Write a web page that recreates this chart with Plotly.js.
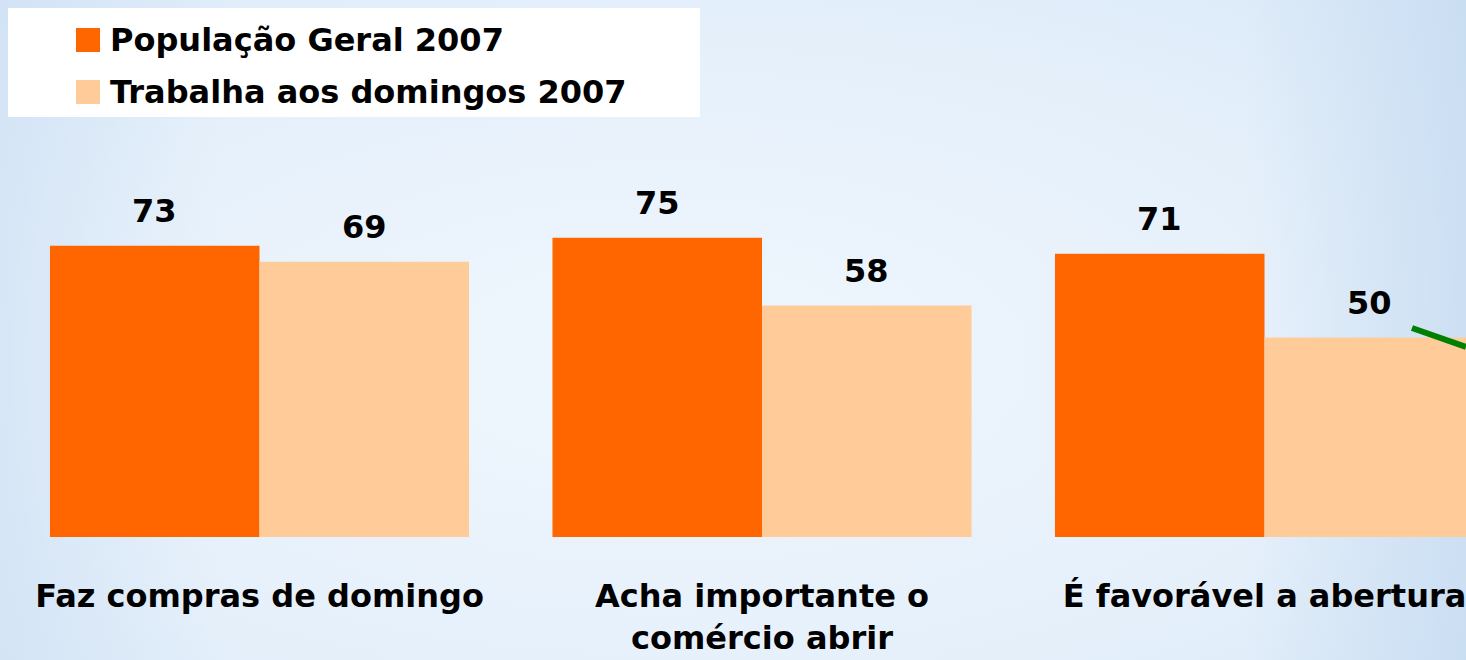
<!DOCTYPE html>
<html>
<head>
<meta charset="utf-8">
<script src="https://cdn.plot.ly/plotly-3.0.1.min.js"></script>
<style>
  html, body { margin: 0; padding: 0; }
  body {
    width: 1466px; height: 660px; overflow: hidden;
    background:
      linear-gradient(90deg, rgba(200,220,242,0.5) 0%, rgba(255,255,255,0) 15%, rgba(255,255,255,0) 85%, rgba(195,217,240,0.7) 100%),
      radial-gradient(ellipse at 45% 55%, #eff6fd 0%, #e7f1fb 55%, #dae9f8 100%);
  }
  #chart { width: 1466px; height: 660px; }
</style>
</head>
<body>
<div id="chart"></div>
<script>
// ---- data ----
const categories = ["Faz compras de domingo", "Acha importante o<br>comércio abrir", "É favorável a abertura"];
const seriesNames = ["População Geral 2007", "Trabalha aos domingos 2007"];
const populacaoGeral = [73, 75, 71];
const trabalhaDomingos = [69, 58, 50];
const seriesColors = ["#FF6600", "#FFCC99"];

const FONT = "DejaVu Sans, Verdana, sans-serif";
const bargap = 0.166;
const half = (1 - bargap) / 4; // offset of each bar centre from category centre

const idx = categories.map((_, i) => i);

const traces = [
  { type: "bar", name: seriesNames[0], x: idx, y: populacaoGeral,
    marker: { color: seriesColors[0], line: { width: 0 } }, showlegend: false, hoverinfo: "skip" },
  { type: "bar", name: seriesNames[1], x: idx, y: trabalhaDomingos,
    marker: { color: seriesColors[1], line: { width: 0 } }, showlegend: false, hoverinfo: "skip" }
];

const annotations = [];
[populacaoGeral, trabalhaDomingos].forEach((vals, s) => {
  vals.forEach((v, i) => {
    annotations.push({
      x: i + (s === 0 ? -half : half), y: v, xref: "x", yref: "y",
      text: "<b>" + v + "</b>", showarrow: false,
      xanchor: "center", yanchor: "middle", yshift: 35,
      font: { family: FONT, size: 32, color: "#000" }
    });
  });
});

// custom legend (white box, squares and labels)
const legendRows = [40, 92]; // pixel centre of each legend row
const H = 537; // plot area height (px)
const shapes = [
  { type: "rect", xref: "paper", yref: "paper", x0: 8/1466, x1: 700/1466, y0: 1 - 117/H, y1: 1 - 8/H,
    fillcolor: "#ffffff", line: { width: 0 }, layer: "below" }
];
seriesNames.forEach((name, s) => {
  const cy = legendRows[s];
  shapes.push({ type: "rect", xref: "paper", yref: "paper",
    x0: 76/1466, x1: 100/1466, y0: 1 - (cy + 12)/H, y1: 1 - (cy - 12)/H,
    fillcolor: seriesColors[s], line: { width: 0 } });
  annotations.push({ xref: "paper", yref: "paper", x: 108/1466, y: 1 - cy/H,
    xanchor: "left", yanchor: "middle", showarrow: false,
    text: "<b>" + name + "</b>", font: { family: FONT, size: 32, color: "#000" } });
});

// green line fragment (arrow entering from the right)
shapes.push({ type: "line", xref: "paper", yref: "paper",
  x0: 1412/1466, y0: 1 - 328/H, x1: 1.0, y1: 1 - 347/H,
  line: { color: "#008000", width: 6 } });

const layout = {
  width: 1466, height: 660,
  margin: { l: 0, r: 0, t: 0, b: 123, pad: 0 },
  paper_bgcolor: "rgba(0,0,0,0)", plot_bgcolor: "rgba(0,0,0,0)",
  barmode: "group", bargap: bargap, bargroupgap: 0,
  showlegend: false,
  xaxis: {
    type: "linear", range: [-259.5/502.5, (1466-259.5)/502.5],
    tickmode: "array", tickvals: idx, ticktext: categories.map(c => "<b>" + c + "</b>"),
    showgrid: false, zeroline: false, showline: false,
    ticks: "outside", ticklen: 31, tickcolor: "rgba(0,0,0,0)",
    ticklabeloverflow: "allow",
    tickfont: { family: FONT, size: 32, color: "#000" }, automargin: false
  },
  yaxis: {
    range: [0, 537/3.99], visible: false, showgrid: false, zeroline: false, fixedrange: true
  },
  annotations: annotations,
  shapes: shapes,
  font: { family: FONT }
};

Plotly.newPlot("chart", traces, layout, { staticPlot: true, displayModeBar: false });
</script>
</body>
</html>
